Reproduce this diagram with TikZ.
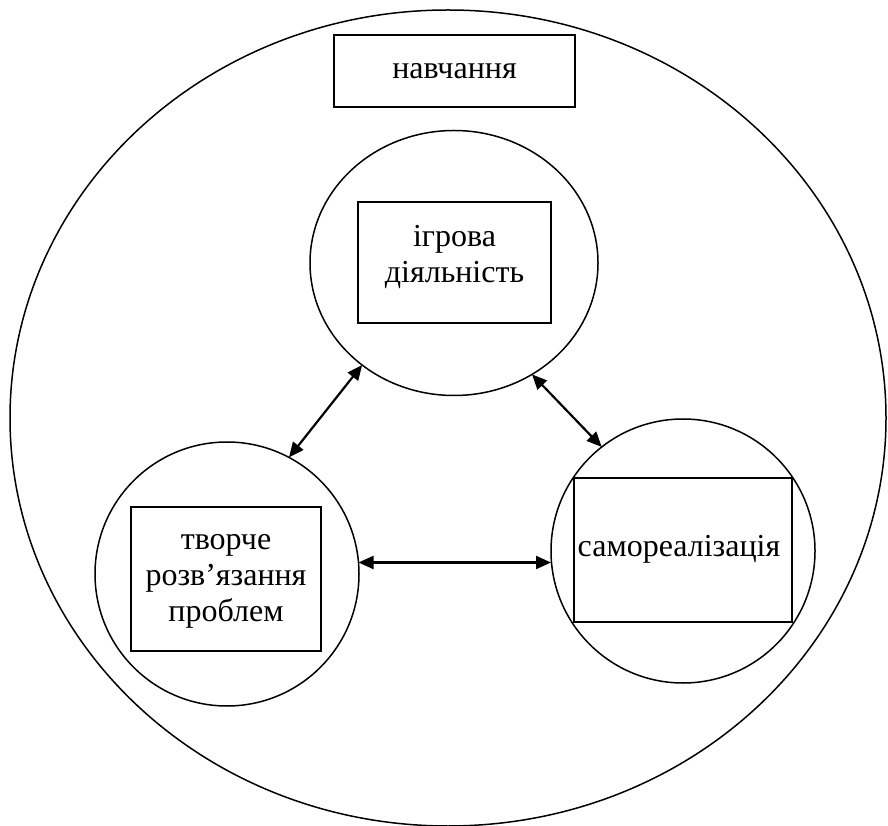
\documentclass[tikz,border=0pt]{standalone}
\usepackage{fontspec}
\setmainfont{Liberation Serif}
\usetikzlibrary{arrows.meta,shapes.geometric,calc}
\tikzset{
    frame line/.style={line width=1.5pt},
    ring/.style={ellipse,draw,frame line,inner sep=0pt,outer sep=0pt},
    box/.style={rectangle,draw,line width=2pt,inner sep=0pt},
    caption text/.style={font=\fontsize{32}{36}\selectfont,align=center,inner sep=0pt},
    link/.style={{Triangle[length=15pt,width=13pt]}-{Triangle[length=15pt,width=13pt]},line width=2.2pt},
}

\begin{document}
\begin{tikzpicture}[
            x=1pt,y=1pt,
            small ring/.style = {ring, minimum width=264pt, minimum height=264pt}
        ]
        \useasboundingbox (0,0) rectangle (888,825);

        % big ellipse with its title
        \node[ring, minimum width=876pt, minimum height=816pt] (learning) at (448,407) {};
        \node[box, minimum width=241pt, minimum height=72pt] (learningbox) at (454.5,754) {};
        \node[caption text] (learningtext) at (learningbox) {навчання};

        % the three circles
        \node[ring, minimum width=288pt, minimum height=265pt] (play) at (454,562) {};
        \node[small ring] (creative) at (227,251) {};
        \node[small ring] (selfreal) at (683,274) {};

        \node[box, minimum width=193pt, minimum height=121pt] (playbox) at (play) {};
        \node[caption text] (playtext) at (454.5,568) {ігрова\\діяльність};

        \node[box, minimum width=190pt, minimum height=144pt] (creativebox) at (226,246) {};
        \node[caption text] (creativetext) at (226,244) {творче\\розв’язання\\проблем};

        \node[box, minimum width=218pt, minimum height=144pt] (selfrealbox) at (683,275) {};
        \node[caption text] (selfrealtext) at (679,276) {самореалізація};

        \draw[link] (play.228) -- (creative.62);
        \draw[link] (play.305) -- (selfreal.128);
        \draw[link] (creative.5) -- (creative.5 -| selfreal.west);
    \end{tikzpicture}
\end{document}
